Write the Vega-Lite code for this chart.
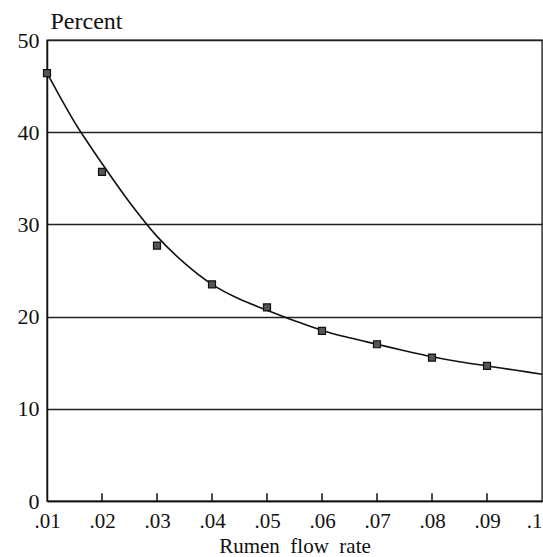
{
  "$schema": "https://vega.github.io/schema/vega-lite/v6.json",
  "width": 495,
  "height": 461,
  "autosize": {"type": "none"},
  "padding": {"left": 47, "top": 40, "right": 1, "bottom": 56},
  "background": "white",
  "config": {
    "view": {"stroke": "#222", "strokeWidth": 1.4},
    "font": "'Liberation Serif', 'Times New Roman', serif",
    "axis": {"labelFont": "'Liberation Serif', 'Times New Roman', serif", "titleFont": "'Liberation Serif', 'Times New Roman', serif", "labelColor": "#111", "titleColor": "#111", "titleFontWeight": "normal"}
  },
  "datasets": {
    "pts": [
      {"rate": 0.01, "pct": 46.4},
      {"rate": 0.02, "pct": 35.7},
      {"rate": 0.03, "pct": 27.7},
      {"rate": 0.04, "pct": 23.5},
      {"rate": 0.05, "pct": 21.0},
      {"rate": 0.06, "pct": 18.45},
      {"rate": 0.07, "pct": 17.0},
      {"rate": 0.08, "pct": 15.55},
      {"rate": 0.09, "pct": 14.65}
    ],
    "curve": [
      {"rate": 0.01, "pct": 46.4},
      {"rate": 0.0125, "pct": 43.7},
      {"rate": 0.015, "pct": 41.1},
      {"rate": 0.0175, "pct": 38.8},
      {"rate": 0.02, "pct": 36.6},
      {"rate": 0.025, "pct": 32.4},
      {"rate": 0.03, "pct": 28.7},
      {"rate": 0.035, "pct": 25.8},
      {"rate": 0.04, "pct": 23.5},
      {"rate": 0.045, "pct": 21.9},
      {"rate": 0.05, "pct": 20.7},
      {"rate": 0.055, "pct": 19.55},
      {"rate": 0.06, "pct": 18.5},
      {"rate": 0.065, "pct": 17.7},
      {"rate": 0.07, "pct": 17.0},
      {"rate": 0.075, "pct": 16.3},
      {"rate": 0.08, "pct": 15.65},
      {"rate": 0.085, "pct": 15.1},
      {"rate": 0.09, "pct": 14.65},
      {"rate": 0.095, "pct": 14.2},
      {"rate": 0.1, "pct": 13.75}
    ],
    "ticks": [
      {"rate": 0.02}, {"rate": 0.03}, {"rate": 0.04}, {"rate": 0.05},
      {"rate": 0.06}, {"rate": 0.07}, {"rate": 0.08}, {"rate": 0.09}
    ]
  },
  "layer": [
    {
      "data": {"name": "curve"},
      "mark": {"type": "line", "color": "#111", "strokeWidth": 1.6, "interpolate": "monotone", "clip": true},
      "encoding": {
        "x": {
          "field": "rate", "type": "quantitative",
          "scale": {"domain": [0.01, 0.1], "nice": false, "zero": false},
          "axis": {
            "values": [0.01, 0.02, 0.03, 0.04, 0.05, 0.06, 0.07, 0.08, 0.09, 0.1],
            "labelExpr": "substring(format(datum.value, '.2~f'), 1)",
            "labelFontSize": 21,
            "labelPadding": 9,
            "labelFlush": false,
            "labelAlign": {"condition": {"test": "datum.value > 0.095", "value": "right"}, "value": "center"},
            "ticks": false,
            "domainColor": "#111",
            "domainWidth": 1.5,
            "grid": false,
            "title": "Rumen\u00a0\u00a0flow\u00a0\u00a0rate",
            "titleFontSize": 21,
            "titleBaseline": "alphabetic",
            "titleY": 51
          }
        },
        "y": {
          "field": "pct", "type": "quantitative",
          "scale": {"domain": [0, 50], "nice": false},
          "axis": {
            "values": [0, 10, 20, 30, 40, 50],
            "labelFontSize": 22,
            "labelPadding": 8,
            "ticks": false,
            "domainColor": "#111",
            "domainWidth": 1.5,
            "grid": true,
            "gridColor": "#222",
            "gridWidth": 1.4,
            "gridOpacity": 1,
            "title": "Percent",
            "titleFontSize": 24,
            "titleAngle": 0,
            "titleAlign": "left",
            "titleBaseline": "alphabetic",
            "titleX": 3,
            "titleY": -12
          }
        }
      }
    },
    {
      "data": {"name": "ticks"},
      "mark": {"type": "rule", "color": "#111", "strokeWidth": 1.5},
      "encoding": {
        "x": {"field": "rate", "type": "quantitative"},
        "y": {"datum": 0},
        "y2": {"datum": 0.85}
      }
    },
    {
      "data": {"name": "pts"},
      "mark": {"type": "square", "size": 49, "filled": true, "color": "#555", "stroke": "#111", "strokeWidth": 1.2, "opacity": 1},
      "encoding": {
        "x": {"field": "rate", "type": "quantitative"},
        "y": {"field": "pct", "type": "quantitative"}
      }
    }
  ]
}
